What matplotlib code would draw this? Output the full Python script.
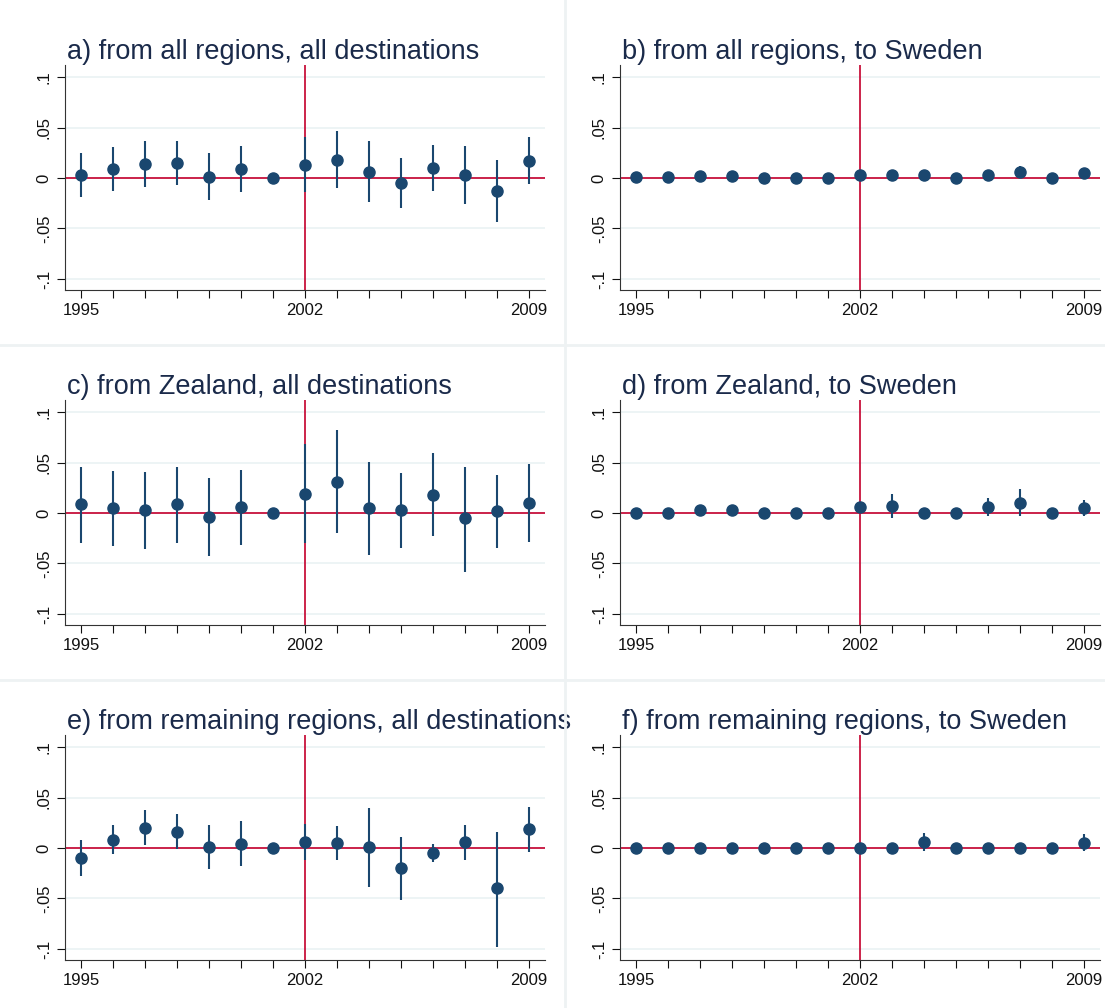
import matplotlib
matplotlib.use("Agg")
import matplotlib.pyplot as plt
import numpy as np

years = list(range(1995, 2010))
titles = ["a) from all regions, all destinations", "b) from all regions, to Sweden",
          "c) from Zealand, all destinations", "d) from Zealand, to Sweden",
          "e) from remaining regions, all destinations", "f) from remaining regions, to Sweden"]

a_coef = [.003,.009,.014,.015,.001,.009,0,.013,.018,.006,-.005,.010,.003,-.013,.017]
a_hi = [.025,.031,.037,.037,.025,.032,0,.041,.047,.037,.020,.033,.032,.018,.041]
a_lo = [-.019,-.013,-.009,-.007,-.022,-.014,0,-.014,-.010,-.024,-.030,-.013,-.026,-.044,-.006]

b_coef = [.0005,.0005,.002,.002,0,0,0,.003,.003,.003,0,.003,.006,0,.005]
b_hi = [.002,.002,.004,.004,.002,.002,0,.006,.006,.006,.002,.006,.012,.002,.009]
b_lo = [-.001,-.001,0,0,-.002,-.002,0,0,0,0,-.002,0,0,-.002,.001]

c_coef = [.009,.005,.003,.009,-.004,.006,0,.019,.031,.005,.003,.018,-.005,.002,.010]
c_hi = [.046,.042,.041,.046,.035,.043,0,.068,.082,.051,.040,.059,.046,.038,.049]
c_lo = [-.030,-.033,-.036,-.030,-.043,-.032,0,-.030,-.020,-.042,-.035,-.023,-.058,-.035,-.029]

d_coef = [0,0,.003,.003,0,0,0,.006,.007,0,0,.006,.010,0,.005]
d_hi = [.002,.002,.006,.006,.002,.002,0,.010,.019,.002,.002,.015,.024,.002,.013]
d_lo = [-.002,-.002,0,0,-.002,-.002,0,.002,-.005,-.002,-.002,-.003,-.003,-.002,-.003]

e_coef = [-.010,.008,.020,.016,.001,.004,0,.006,.005,.001,-.020,-.005,.006,-.040,.019]
e_hi = [.008,.023,.038,.034,.023,.027,0,.024,.022,.040,.011,.004,.023,.016,.041]
e_lo = [-.028,-.006,.003,-.001,-.021,-.018,0,-.012,-.012,-.039,-.052,-.014,-.012,-.098,-.004]

f_coef = [0,0,0,0,0,0,0,0,0,.006,0,0,0,0,.005]
f_hi = [.002,.002,.002,.002,.002,.002,0,.002,.002,.015,.002,.002,.002,.002,.014]
f_lo = [-.002,-.002,-.002,-.002,-.002,-.002,0,-.002,-.002,-.003,-.002,-.002,-.002,-.002,-.003]

panels = [(a_coef,a_hi,a_lo),(b_coef,b_hi,b_lo),(c_coef,c_hi,c_lo),
          (d_coef,d_hi,d_lo),(e_coef,e_hi,e_lo),(f_coef,f_hi,f_lo)]

W, H = 1105, 1008
fig = plt.figure(figsize=(W/100, H/100), dpi=100)
plt.rcParams['font.family'] = ['Liberation Sans', 'DejaVu Sans']
navy = '#1a476f'
red = '#c8123c'

fig.add_artist(plt.Line2D([565/W, 565/W], [0, 1], color='#eef2f3', lw=2))
for yy in [345, 680]:
    fig.add_artist(plt.Line2D([0, 1], [1-yy/H, 1-yy/H], color='#eef2f3', lw=2))

lefts = [65, 620]
tops = [65, 400, 735]
for i, (coef, hi, lo) in enumerate(panels):
    r, c = divmod(i, 2)
    l = lefts[c]; t = tops[r]
    ax = fig.add_axes([l/W, 1-(t+225)/H, 480/W, 225/H])
    ax.set_xlim(1994.5, 2009.5)
    ax.set_ylim(-0.111, 0.112)
    ax.set_yticks([-0.1, -0.05, 0, 0.05, 0.1])
    ax.set_yticklabels(['-.1', '-.05', '0', '.05', '.1'], rotation=90, va='center')
    ax.set_xticks(years)
    ax.set_xticklabels([str(y) if y in (1995, 2002, 2009) else '' for y in years])
    ax.grid(axis='y', color='#eaf2f3', lw=1.2)
    ax.set_axisbelow(True)
    for s in ['top', 'right']:
        ax.spines[s].set_visible(False)
    for s in ['left', 'bottom']:
        ax.spines[s].set_color('#333333')
    ax.tick_params(labelsize=12, colors='#111111', length=6)
    ax.axhline(0, color=red, lw=1.3, zorder=1)
    ax.axvline(2002, color=red, lw=1.3, zorder=1)
    ax.vlines(years, lo, hi, color=navy, lw=1.5, zorder=2)
    ax.plot(years, coef, 'o', color=navy, ms=8, zorder=3)
    ax.set_title(titles[i], loc='left', fontsize=19.5, color='#1a2a4a', pad=4, x=0.005)

fig.savefig('out.png', dpi=100, facecolor='white')
